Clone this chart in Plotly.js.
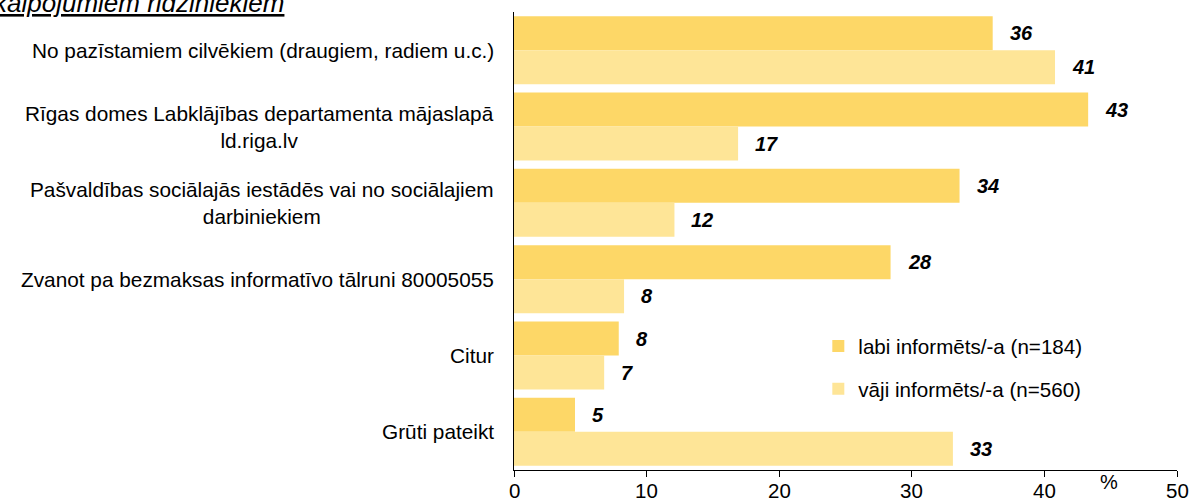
<!DOCTYPE html>
<html>
<head>
<meta charset="utf-8">
<script src="https://cdn.plot.ly/plotly-3.0.1.min.js"></script>
<style>html,body{margin:0;padding:0;background:#fff;}#chart{width:1196px;height:502px;}</style>
</head>
<body>
<div id="chart"></div>
<script>
const categories = [
  "No pazīstamiem cilvēkiem (draugiem, radiem u.c.)",
  "Rīgas domes Labklājības departamenta mājaslapā<br>ld.riga.lv",
  "Pašvaldības sociālajās iestādēs vai no sociālajiem<br>darbiniekiem",
  "Zvanot pa bezmaksas informatīvo tālruni 80005055",
  "Citur",
  "Grūti pateikt"
];
const seriesNames = ["labi informēts/-a (n=184)", "vāji informēts/-a (n=560)"];
const labiValues = [36.1, 43.3, 33.6, 28.4, 7.9, 4.6];
const vajiValues = [40.8, 16.9, 12.1, 8.3, 6.8, 33.1];
const xTicks = [0, 10, 20, 30, 40, 50];
const titleText = "kalpojumiem rīdziniekiem";
const unitLabel = "%";

const colors = ["#FDD767", "#FEE597"];
const FONT = "Liberation Sans, Arial, sans-serif";

const traces = [labiValues, vajiValues].map((vals, i) => ({
  type: "bar",
  orientation: "h",
  name: seriesNames[i],
  x: vals,
  y: categories,
  marker: {color: colors[i]},
  legendgroup: "g" + i,
  hoverinfo: "x"
}));

const annotations = [];
categories.forEach(c => {
  annotations.push({
    xref: "paper", yref: "y", x: 0, y: c, xanchor: "right", yanchor: "middle",
    xshift: -18, text: c, showarrow: false, align: "center",
    font: {family: FONT, size: 20.8, color: "#000"}
  });
});
[labiValues, vajiValues].forEach((vals, i) => {
  vals.forEach((v, j) => {
    annotations.push({
      xref: "x", yref: "y", x: v, y: categories[j], xanchor: "left", yanchor: "middle",
      xshift: 15, yshift: i === 0 ? 17 : -17,
      text: "<b><i>" + Math.round(v) + "</i></b>", showarrow: false,
      font: {family: FONT, size: 20, color: "#000"}
    });
  });
});
// x tick labels (placed close to the axis as in the reference)
xTicks.forEach(t => {
  annotations.push({
    xref: "x", yref: "paper", x: t, y: 0, xanchor: "center", yanchor: "middle",
    yshift: -20, text: String(t), showarrow: false,
    font: {family: FONT, size: 20.5, color: "#000"}
  });
});
annotations.push({
  xref: "x", yref: "paper", x: 44.9, y: 0, xanchor: "center", yanchor: "middle",
  yshift: -12, text: unitLabel, showarrow: false,
  font: {family: FONT, size: 20, color: "#000"}
});
annotations.push({
  xref: "paper", yref: "paper", x: -522 / 663, y: 1, xanchor: "left", yanchor: "bottom",
  yshift: -8, text: '<i><span style="text-decoration:underline">' + titleText + '</span></i>',
  showarrow: false, font: {family: FONT, size: 26, color: "#000"}
});

const layout = {
  width: 1196, height: 502,
  margin: {l: 514, r: 19, t: 12, b: 32},
  paper_bgcolor: "#fff", plot_bgcolor: "#fff",
  barmode: "group", bargap: 0.109, bargroupgap: 0,
  font: {family: FONT, size: 20, color: "#000"},
  xaxis: {
    range: [0, 50], tickvals: xTicks, showticklabels: false,
    showgrid: false, zeroline: false, showline: true, linecolor: "#000", linewidth: 1,
    ticks: "outside", ticklen: 6, tickcolor: "#000", fixedrange: true
  },
  yaxis: {
    autorange: "reversed", showticklabels: false, showgrid: false, zeroline: false,
    showline: true, linecolor: "#000", linewidth: 1.5, ticks: "", fixedrange: true
  },
  legend: {
    x: 0.459, y: 0.314, xanchor: "left", yanchor: "top",
    traceorder: "grouped", tracegroupgap: 13, itemwidth: 30,
    font: {family: FONT, size: 20.6, color: "#000"}, bgcolor: "rgba(0,0,0,0)"
  },
  annotations: annotations,
  showlegend: true
};

Plotly.newPlot("chart", traces, layout, {displayModeBar: false, staticPlot: true});
</script>
</body>
</html>
